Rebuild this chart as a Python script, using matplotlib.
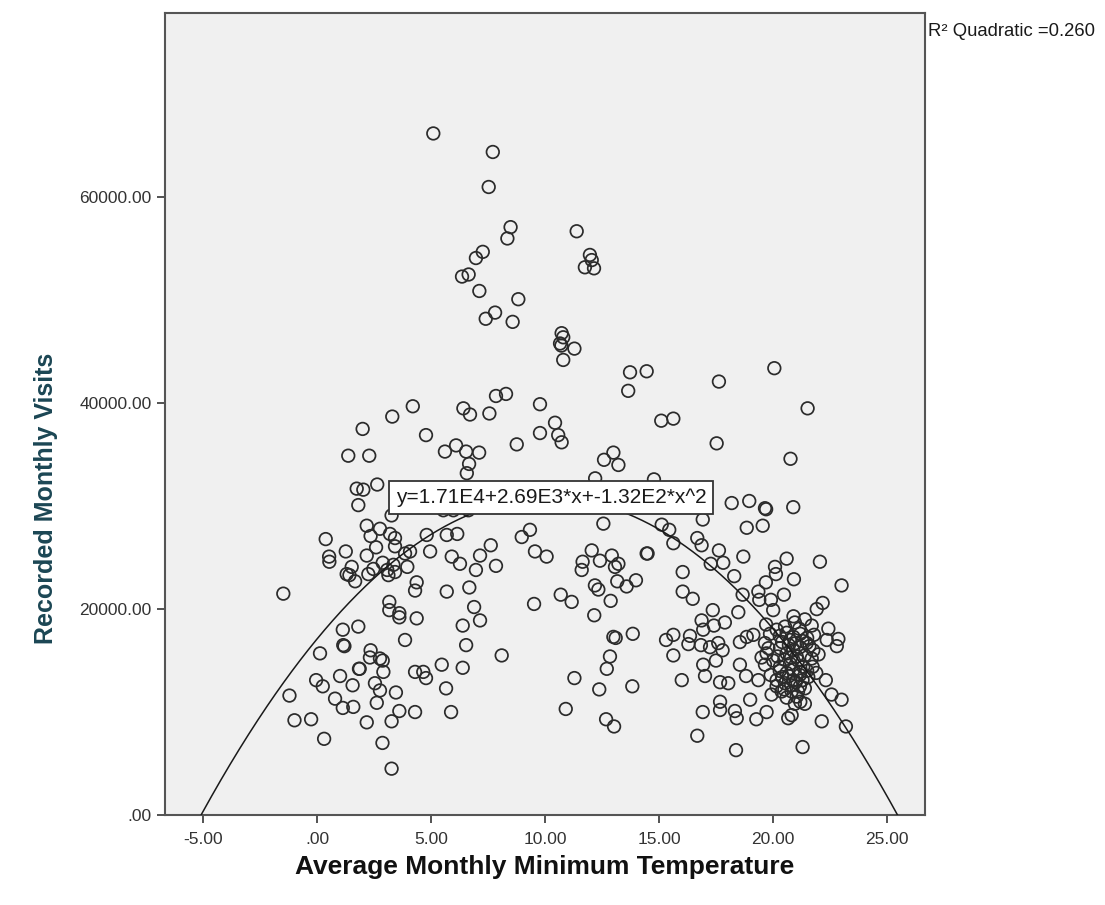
import numpy as np
import matplotlib
matplotlib.use('Agg')
from matplotlib import pyplot as plt
from matplotlib.ticker import FixedLocator, FuncFormatter

plt.rcParams['font.family'] = ['Liberation Sans', 'DejaVu Sans']

# Average monthly minimum temperature (x) and recorded monthly visits (y, thousands)
temp = [
    # top cluster
    5.10, 7.71, 7.53, 8.49, 8.35, 7.27, 6.97, 6.65, 6.36, 7.12, 8.83,
    11.39, 11.97, 12.05, 11.75, 12.15,
    7.81, 7.40, 8.58, 10.73, 10.80, 10.66, 10.72, 11.29, 10.80,
    13.73, 14.46, 13.65, 15.10, 15.63,
    4.20, 6.42, 6.71, 7.56, 7.85, 8.29, 9.78, 10.44, 9.78, 10.58, 10.73, 8.76,
    4.78, 5.61, 6.10, 6.54, 7.11, 6.67, 6.57,
    12.59, 13.00, 13.22, 12.20, 14.78,
    # right upper
    17.63, 20.06, 21.52, 17.53, 20.77,
    18.19, 18.96, 19.65, 19.70, 20.89, 18.85, 19.55, 16.92, 15.12, 15.45,
    15.63, 16.68, 16.87, 17.63, 18.70, 20.60, 22.06, 14.50,
    # left upper
    3.30, 2.00, 1.37, 2.29, 2.64, 1.74, 2.03, 1.81, 3.27, 2.18, 2.76, 3.20,
    2.35, 3.42, 3.42, 2.59, 0.38, 1.26, 0.53, 2.18, 4.08,
    # middle, below the equation box
    5.54, 5.98, 6.64, 4.81, 5.69, 6.15, 8.98, 9.34, 12.56, 7.62, 4.96, 5.91,
    7.15, 9.56, 10.07, 12.05, 12.93, 14.46, 3.86,
    3.96, 6.27, 6.97, 7.85, 11.65, 11.61, 12.41, 13.22, 13.07,
    # left lower
    0.54, 1.52, 1.30, 1.42, 1.67, 2.25, 2.47, 2.88, 3.08, 3.35, 3.13, 3.42,
    4.37, 4.30, -1.48, 3.17, 3.17, 3.61, 3.61, 4.37, 1.13, 1.81, 1.15, 1.20,
    0.13, 3.86, 2.35, 2.32, 2.76, 2.88, 2.91, 1.84, 1.87, 1.01, -0.04, 0.25,
    1.56, 2.54, 2.76, 4.30, 3.46, 0.79, 1.13, 1.59, 2.62, -1.21, -0.99, -0.26,
    2.18, 3.27, 3.61, 4.30, 0.31, 2.87, 3.27,
    # middle lower
    5.69, 6.68, 6.89, 7.15, 6.39, 6.54, 8.10, 5.47, 6.39, 4.66, 4.78, 5.66,
    5.88, 10.69, 11.17, 9.52, 12.19, 12.34, 12.88, 12.16, 13.58, 13.99, 13.17,
    13.00, 13.10, 13.85, 12.85, 12.71, 11.29, 12.38, 13.83, 10.91, 12.68, 13.03,
    # right cluster
    17.27, 17.82, 16.04, 18.30, 20.09, 20.13, 20.92, 19.69, 23.01, 16.04, 16.48,
    18.67, 19.36, 19.40, 19.91, 20.48, 20.01, 22.18, 21.92, 17.36, 18.48, 16.87,
    17.89, 16.94, 17.41, 15.63, 15.31, 16.36, 16.29, 15.63, 16.84, 17.24, 17.60,
    17.79, 17.50, 18.55, 18.85, 19.14, 19.65, 19.87, 20.16, 20.53, 20.96, 21.15,
    21.70, 22.43, 22.87, 22.80, 22.36, 21.48, 21.77, 20.75, 20.31, 20.60, 20.89,
    21.18, 21.04, 19.72, 20.01, 19.65, 20.31, 20.75, 21.33, 21.74, 21.55, 21.18,
    20.89, 20.53, 20.16, 20.16, 19.94, 20.38, 20.82, 21.18, 21.04, 20.96, 21.40,
    20.67, 20.82, 22.14, 23.20, 23.01, 22.57, 22.32, 21.30, 18.38, 16.68, 16.92,
    17.68, 17.68, 18.33, 18.41, 19.00, 19.27, 19.72, 16.00, 17.02, 16.94, 17.68,
    18.04, 18.55, 18.82, 19.36,
    # dense core of the right cluster
    20.30, 20.60, 20.90, 21.20, 21.50, 20.40, 20.70, 21.00, 21.30, 21.60,
    20.20, 20.50, 20.80, 21.10, 21.40, 21.70, 20.30, 20.60, 20.90, 21.20,
    21.50, 20.40, 20.70, 21.00, 21.30, 20.50, 20.80, 21.10, 21.40, 20.60,
    21.20, 19.80, 19.50, 19.90, 21.90, 21.80, 22.00, 19.70, 20.90, 21.40,
]
visits_k = [
    66.2, 64.4, 61.0, 57.1, 56.0, 54.7, 54.1, 52.5, 52.3, 50.9, 50.1,
    56.7, 54.4, 53.9, 53.2, 53.1,
    48.8, 48.2, 47.9, 46.8, 46.4, 45.8, 45.6, 45.3, 44.2,
    43.0, 43.1, 41.2, 38.3, 38.5,
    39.7, 39.5, 38.9, 39.0, 40.7, 40.9, 39.9, 38.1, 37.1, 36.9, 36.2, 36.0,
    36.9, 35.3, 35.9, 35.3, 35.2, 34.1, 33.2,
    34.5, 35.2, 34.0, 32.7, 32.6,
    42.1, 43.4, 39.5, 36.1, 34.6,
    30.3, 30.5, 29.8, 29.7, 29.9, 27.9, 28.1, 28.7, 28.2, 27.7,
    26.4, 26.9, 26.2, 25.7, 25.1, 24.9, 24.6, 25.4,
    38.7, 37.5, 34.9, 34.9, 32.1, 31.7, 31.6, 30.1, 29.1, 28.1, 27.8, 27.3,
    27.1, 26.9, 26.1, 26.0, 26.8, 25.6, 25.1, 25.2, 25.6,
    29.6, 29.6, 29.6, 27.2, 27.2, 27.3, 27.0, 27.7, 28.3, 26.2, 25.6, 25.1,
    25.2, 25.6, 25.1, 25.7, 25.2, 25.4, 25.4,
    24.1, 24.4, 23.8, 24.2, 24.6, 23.8, 24.7, 24.4, 24.1,
    24.6, 24.1, 23.4, 23.3, 22.7, 23.4, 23.9, 24.5, 23.8, 24.3, 23.3, 23.6,
    22.6, 21.8, 21.5, 20.7, 19.9, 19.6, 19.2, 19.1, 18.0, 18.3, 16.5, 16.4,
    15.7, 17.0, 16.0, 15.3, 15.2, 15.0, 13.9, 14.2, 14.2, 13.5, 13.1, 12.5,
    12.6, 12.8, 12.1, 13.9, 11.9, 11.3, 10.4, 10.5, 10.9, 11.6, 9.2, 9.3,
    9.0, 9.1, 10.1, 10.0, 7.4, 7.0, 4.5,
    21.7, 22.1, 20.2, 18.9, 18.4, 16.5, 15.5, 14.6, 14.3, 13.9, 13.3, 12.3,
    10.0, 21.4, 20.7, 20.5, 22.3, 21.9, 20.8, 19.4, 22.2, 22.8, 22.7,
    17.3, 17.2, 17.6, 15.4, 14.2, 13.3, 12.2, 12.5, 10.3, 9.3, 8.6,
    24.4, 24.5, 23.6, 23.2, 24.1, 23.4, 22.9, 22.6, 22.3, 21.7, 21.0,
    21.4, 21.7, 20.9, 20.9, 21.4, 19.9, 20.6, 20.0, 19.9, 19.7, 18.9,
    18.7, 18.0, 18.4, 17.5, 17.0, 17.4, 16.6, 15.5, 16.5, 16.3, 16.7,
    16.0, 15.0, 16.8, 17.3, 17.5, 16.7, 17.6, 18.0, 18.3, 18.7, 18.1,
    18.4, 18.1, 17.1, 16.4, 17.0, 16.7, 16.0, 17.0, 16.2, 15.7, 16.0,
    16.3, 15.4, 15.7, 15.0, 14.6, 14.4, 14.7, 14.4, 14.4, 13.4, 13.6,
    13.1, 12.8, 13.1, 12.5, 11.7, 12.0, 12.0, 12.5, 11.5, 10.8, 10.8,
    9.4, 9.7, 9.1, 8.6, 11.2, 11.7, 13.1, 6.6, 6.3, 7.7, 10.0,
    11.0, 10.2, 10.1, 9.4, 11.2, 9.3, 10.0, 13.1, 13.5, 14.6, 12.9,
    12.8, 14.6, 13.5, 13.1,
    17.4, 17.7, 17.3, 17.6, 17.2, 16.8, 16.5, 16.7, 16.9, 16.4,
    15.4, 15.1, 15.3, 15.0, 15.5, 15.2, 14.0, 13.8, 14.1, 13.9,
    14.0, 13.4, 13.5, 12.9, 13.1, 12.2, 12.6, 12.0, 12.3, 11.4,
    11.0, 16.2, 15.3, 13.6, 13.8, 17.5, 15.6, 18.5, 19.3, 19.0,
]
visits = np.array(visits_k) * 1000.0

# quadratic fit reported on the chart
b0, b1, b2 = 1.71e4, 2.69e3, -1.32e2
r2 = 0.260

x_ticks = [-5, 0, 5, 10, 15, 20, 25]
y_ticks = [0, 20000, 40000, 60000]


def spss_fmt(v, pos=None):
    # SPSS style: two decimals, no leading zero
    s = '%.2f' % v
    if s.startswith('0.'):
        s = s[1:]
    elif s.startswith('-0.'):
        s = '-' + s[2:]
    return s


W, H = 1105, 905
fig = plt.figure(figsize=(W / 100, H / 100), dpi=100)
fig.patch.set_facecolor('white')
ax = fig.add_axes([165 / W, 1 - 815 / H, (925 - 165) / W, (815 - 13) / H])
ax.set_facecolor('#f0f0f0')

ax.scatter(temp, visits, s=82, facecolors='none', edgecolors='#2b2b2b',
           linewidths=1.25, zorder=3)

xx = np.linspace(-8, 28, 800)
yy = b0 + b1 * xx + b2 * xx**2
ax.plot(xx, yy, c='#1a1a1a', lw=1.1, zorder=4)

ax.set_xlim(-6.67, 26.67)
ax.set_ylim(0, 77900)
ax.xaxis.set_major_locator(FixedLocator(x_ticks))
ax.yaxis.set_major_locator(FixedLocator(y_ticks))
ax.xaxis.set_major_formatter(FuncFormatter(spss_fmt))
ax.yaxis.set_major_formatter(FuncFormatter(spss_fmt))
ax.tick_params(direction='out', length=6, width=1.3, colors='#444444',
               labelsize=12.5, labelcolor='#333333')
ax.tick_params(axis='x', pad=6)
for sp in ax.spines.values():
    sp.set_color('#555555')
    sp.set_linewidth(1.5)

ax.text(0.508, 0.396, 'y=1.71E4+2.69E3*x+-1.32E2*x^2', transform=ax.transAxes,
        ha='center', va='center', fontsize=15, color='#1a1a1a', zorder=6,
        bbox=dict(boxstyle='square,pad=0.33', fc='white', ec='#333333', lw=1.3))

fig.text(928 / W, 1 - 32 / H, 'R² Quadratic =%.3f' % r2, ha='left',
         va='center', fontsize=13.3, color='#1a1a1a')
fig.text(46 / W, 1 - 498 / H, 'Recorded Monthly Visits', rotation=90,
         ha='center', va='center', fontsize=18, fontweight='bold',
         color='#1b4654')
fig.text(545 / W, 1 - 867 / H, 'Average Monthly Minimum Temperature',
         ha='center', va='center', fontsize=19, fontweight='bold',
         color='#111111')

fig.savefig('out.png', dpi=100)
